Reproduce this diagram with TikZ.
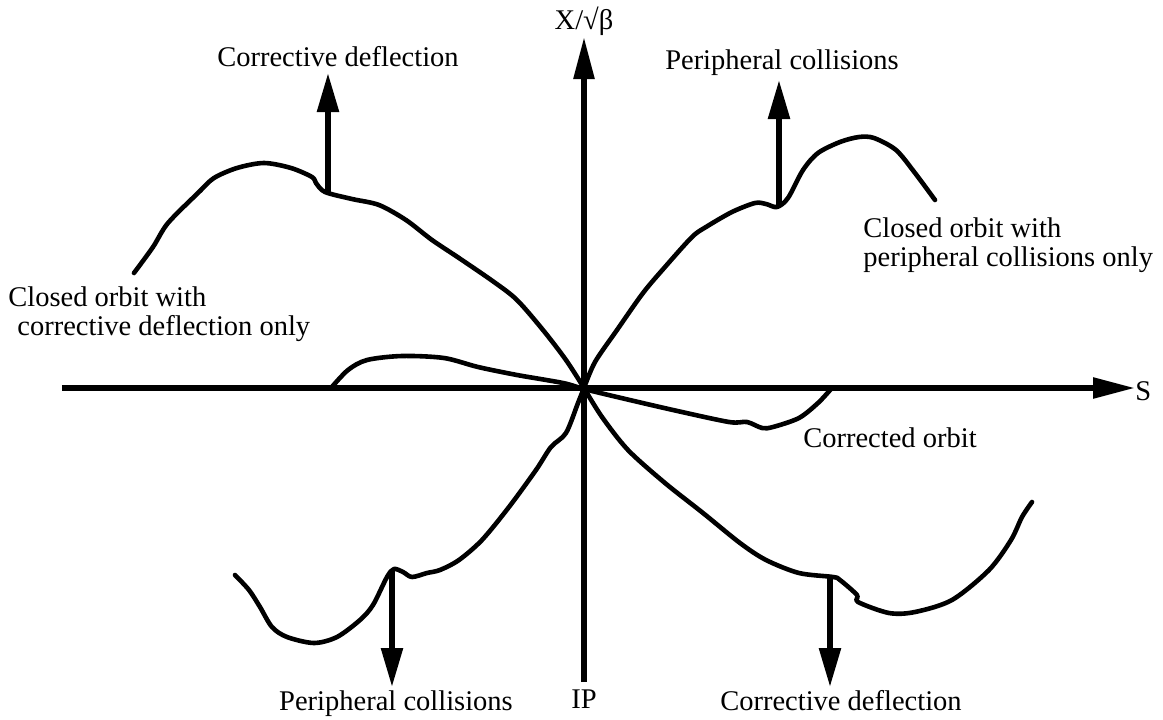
\documentclass[tikz,border=0pt]{standalone}
\usepackage{fontspec}
\setmainfont{Liberation Serif}
\usetikzlibrary{arrows.meta}

\begin{document}
\begin{tikzpicture}[x=5pt, y=5pt, font=\fontsize{14.25}{14.5}\selectfont,
          axis/.style={line width=2.8pt, -{Triangle[length=21pt, width=10pt]}},
          kick/.style={line width=2.8pt, -{Triangle[length=19.5pt, width=10.5pt]}},
          orbit/.style={line width=2.3pt, line cap=round, line join=round},
          lbl/.style={inner sep=0pt, anchor=base}]
        \useasboundingbox (-58.4,-33.1) rectangle (57.9,38.8);
        % axes
        \coordinate (ip) at (0,0);
        \coordinate (sl) at (-52.2,0);
        \coordinate (sr) at (55.1,0);
        \coordinate (xb) at (0,-29.4);
        \coordinate (xt) at (0,35.1);
        \draw[axis] (sl)--(sr);
        \draw[axis] (xb)--(xt);
        \node[lbl] (xlab) at (0,35.9) {X/√β};
        \node[lbl, anchor=base west] (slab) at (55.1,-1.2) {S};
        \node[lbl] (iplab) at (0,-32.0) {IP};
        % closed orbit, corrective deflection only
        \draw[orbit] plot[smooth, tension=0.5] coordinates {(-45.0,11.5)
              (-43.1,14.1) (-41.6,16.5) (-38.5,19.6) (-37.0,21.0) (-34.7,22.0)
              (-32.0,22.5) (-29.3,22.0) (-27.2,21.1) (-26.8,20.5) (-25.9,19.6)
              (-23.2,18.9) (-20.5,18.3) (-17.8,16.8) (-15.2,14.8) (-12.5,13.0)
              (-9.0,10.6) (-6.7,8.8) (-4.1,5.8) (-1.8,2.8) (0,0)};
        \draw[orbit] plot[smooth, tension=0.5] coordinates {(0,0) (1.8,-2.9)
              (4.4,-6.2) (8.1,-9.5) (11.9,-12.5) (15.6,-15.5) (18.2,-17.2)
              (21.5,-18.5) (24.9,-18.9) (25.6,-19.2) (27.3,-20.7) (27.4,-21.4)
              (30.5,-22.5) (33.1,-22.4) (36.8,-21.2) (40.5,-18.2) (42.7,-15.2)
              (43.8,-12.9) (44.8,-11.4)};
        \node[lbl, anchor=north west, align=left] (colab) at (-57.6,10.15)
              {Closed orbit with\\\hspace{4.5pt}corrective deflection only};
        % closed orbit, peripheral collisions only
        \draw[orbit] plot[smooth, tension=0.5] coordinates {(0,0) (1.1,2.6)
              (3.3,5.8) (5.9,9.5) (8.1,12.1) (10.8,15.1) (12.2,16.1)
              (14.8,17.6) (17.1,18.5) (18.2,18.4) (19.3,18.1) (20.4,19.0)
              (21.9,21.8) (23.4,23.5) (25.6,24.6) (27.5,25.1) (29.0,25.0)
              (31.2,23.8) (33.1,21.5) (35.1,18.8)};
        \draw[orbit] plot[smooth, tension=0.5] coordinates {(0,0) (-0.6,-1.5)
              (-1.8,-4.5) (-3.3,-5.9) (-4.8,-8.2) (-7.5,-11.9) (-10.2,-15.2)
              (-12.5,-17.2) (-14.4,-18.2) (-15.7,-18.5) (-17.2,-18.9)
              (-18.1,-18.4) (-19.0,-18.1) (-19.7,-18.9) (-21.1,-21.7)
              (-22.4,-23.2) (-24.7,-24.9) (-27.0,-25.5) (-29.7,-24.9)
              (-31.2,-23.9) (-32.4,-21.9) (-33.5,-20.2) (-34.9,-18.7)};
        \node[lbl, anchor=north west, align=left] (cplab) at (27.9,17.05)
              {Closed orbit with\\peripheral collisions only};
        % corrected orbit
        \draw[orbit] plot[smooth, tension=0.5] coordinates {(-25.3,0)
              (-23.6,1.8) (-21.7,2.8) (-18.2,3.2) (-14.0,3.0) (-10.6,2.1)
              (-6.7,1.3) (-2.1,0.5) (0,-0.1) (3.3,-0.9) (8.9,-2.2) (14.5,-3.4)
              (16.3,-3.4) (17.8,-4.0) (18.9,-3.9) (21.5,-3.0) (23.4,-1.5)
              (24.7,-0.1)};
        \node[lbl] (corlab) at (30.6,-5.9) {Corrected orbit};
        % kicks
        \coordinate (k1) at (-25.6,19.6);
        \coordinate (k1t) at (-25.6,31.5);
        \coordinate (k2) at (19.5,18.2);
        \coordinate (k2t) at (19.5,30.8);
        \coordinate (k3) at (-19.2,-18.2);
        \coordinate (k3t) at (-19.2,-29.9);
        \coordinate (k4) at (24.6,-19.0);
        \coordinate (k4t) at (24.6,-29.9);
        \draw[kick] (k1)--(k1t);
        \draw[kick] (k2)--(k2t);
        \draw[kick] (k3)--(k3t);
        \draw[kick] (k4)--(k4t);
        \node[lbl] (k1lab) at (-24.6,32.2) {Corrective deflection};
        \node[lbl] (k2lab) at (19.8,31.9) {Peripheral collisions};
        \node[lbl] (k3lab) at (-18.8,-32.2) {Peripheral collisions};
        \node[lbl] (k4lab) at (25.7,-32.2) {Corrective deflection};
      \end{tikzpicture}
\end{document}
